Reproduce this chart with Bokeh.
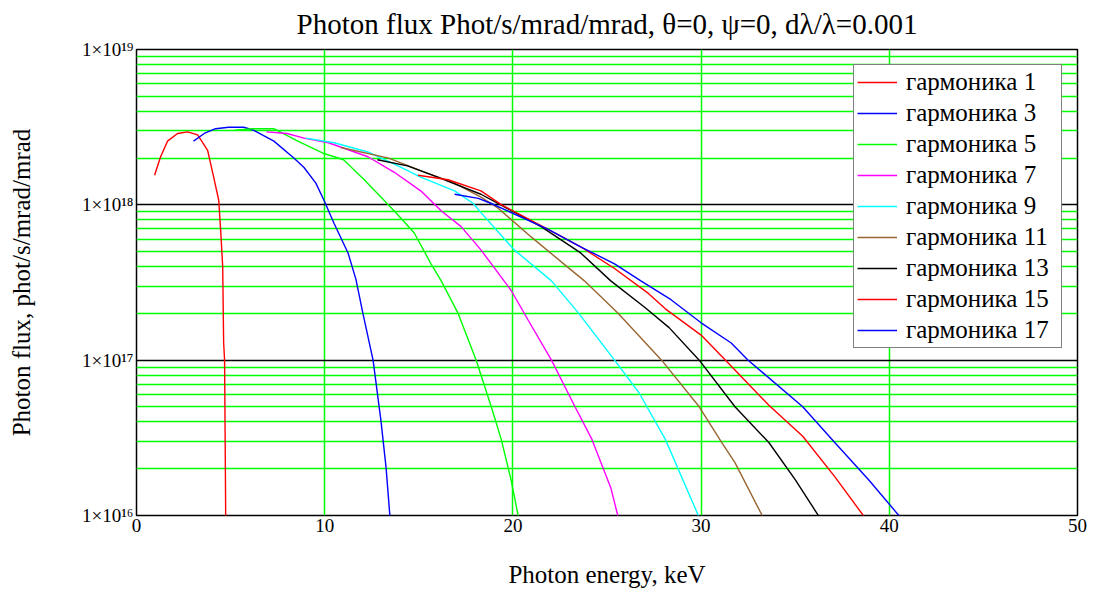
from bokeh.plotting import figure
from bokeh.models import Range1d, FixedTicker, CustomJSTickFormatter
from bokeh.embed import file_html
from bokeh.resources import INLINE

# ---- data ----
title_text = "Photon flux Phot/s/mrad/mrad, θ=0, ψ=0, dλ/λ=0.001"
labels = ["гармоника 1", "гармоника 3", "гармоника 5", "гармоника 7", "гармоника 9",
          "гармоника 11", "гармоника 13", "гармоника 15", "гармоника 17"]
colors = ["#ff0000", "#0000ff", "#00ff00", "#ff00ff", "#00ffff",
          "#996633", "#000000", "#ff0000", "#0000ff"]

e1 = [0.96, 1.28, 1.65, 2.18, 2.72, 3.25, 3.78, 4.10, 4.37, 4.47, 4.58, 4.63, 4.68, 4.71, 4.74]
f1 = [1.55e18, 2.04e18, 2.57e18, 2.88e18, 2.95e18, 2.82e18, 2.24e18, 1.51e18, 1.07e18, 6.9e17,
      4.0e17, 1.3e17, 1.0e17, 3.2e16, 0.95e16]

e3 = [3.03, 3.6, 4.2, 4.9, 5.7, 6.23, 7.3, 8.36, 8.9, 9.53, 9.96, 10.5, 11.24, 11.66, 12.03,
      12.57, 12.99, 13.26, 13.47]
f3 = [2.57e18, 2.88e18, 3.09e18, 3.16e18, 3.16e18, 3.02e18, 2.57e18, 2.0e18, 1.74e18, 1.38e18,
      1.07e18, 7.59e17, 4.9e17, 3.31e17, 2.0e17, 1.0e17, 4.07e16, 2.04e16, 0.97e16]

e5 = [5.2, 6.2, 7.3, 8.57, 9.96, 11.0, 12.1, 13.7, 14.75, 15.65, 16.19, 17.09, 18.05, 18.85,
      19.38, 19.9, 20.3]
f5 = [3.02e18, 3.09e18, 3.09e18, 2.57e18, 2.14e18, 1.95e18, 1.45e18, 9.12e17, 6.61e17, 4.17e17,
      3.24e17, 2.0e17, 1.0e17, 5.01e16, 3.09e16, 1.7e16, 0.97e16]

e7 = [6.9, 8.0, 8.9, 10.2, 12.3, 13.7, 15.1, 16.2, 17.25, 18.3, 19.9, 20.8, 22.05, 23.3, 24.2,
      25.2, 25.6]
f7 = [2.95e18, 2.88e18, 2.69e18, 2.51e18, 2.04e18, 1.62e18, 1.23e18, 9.12e17, 7.24e17, 5.13e17,
      2.82e17, 1.82e17, 1.0e17, 5.01e16, 3.09e16, 1.51e16, 0.97e16]

e9 = [9.0, 10.5, 12.3, 14.06, 15.1, 16.9, 17.9, 18.3, 20.07, 22.05, 23.5, 25.4, 26.7, 28.1, 29.9]
f9 = [2.69e18, 2.51e18, 2.19e18, 1.74e18, 1.51e18, 1.23e18, 1.02e18, 8.91e17, 5.13e17, 3.24e17,
      2.0e17, 1.0e17, 6.17e16, 3.09e16, 0.97e16]

e11 = [10.86, 13.4, 15.1, 16.9, 18.3, 19.2, 21.0, 22.7, 23.8, 25.6, 27.9, 29.9, 31.1, 31.8, 33.3]
f11 = [2.34e18, 2.0e18, 1.66e18, 1.38e18, 1.12e18, 9.55e17, 6.17e17, 4.17e17, 3.24e17, 2.0e17,
       1.0e17, 5.01e16, 2.95e16, 2.19e16, 0.97e16]

e13 = [12.8, 14.4, 16.0, 18.3, 21.5, 23.6, 25.2, 27.0, 28.3, 29.9, 31.8, 33.6, 35.0, 36.3]
f13 = [1.95e18, 1.78e18, 1.51e18, 1.17e18, 7.24e17, 4.9e17, 3.24e17, 2.19e17, 1.62e17, 1.0e17,
       5.01e16, 2.95e16, 1.7e16, 0.97e16]

e15 = [14.96, 16.56, 18.3, 19.4, 21.9, 23.6, 25.4, 27.2, 28.1, 30.0, 31.3, 33.6, 35.4, 37.1, 38.7]
f15 = [1.55e18, 1.45e18, 1.23e18, 1.0e18, 6.92e17, 5.37e17, 3.89e17, 2.69e17, 2.14e17, 1.45e17,
       1.0e17, 5.13e16, 3.24e16, 1.78e16, 0.97e16]

e17 = [16.9, 18.16, 18.85, 21.9, 23.6, 25.4, 26.8, 28.4, 30.0, 31.6, 32.5, 35.4, 37.1, 38.9, 40.6]
f17 = [1.17e18, 1.10e18, 1.02e18, 6.92e17, 5.37e17, 4.17e17, 3.24e17, 2.45e17, 1.74e17, 1.29e17,
       1.0e17, 5.01e16, 2.95e16, 1.7e16, 0.97e16]

energies = [e1, e3, e5, e7, e9, e11, e13, e15, e17]
fluxes = [f1, f3, f5, f7, f9, f11, f13, f15, f17]

x_ticks = [0, 10, 20, 30, 40, 50]
y_ticks = [1e16, 1e17, 1e18, 1e19]
y_minor = [k * 10.0 ** d for d in (16, 17, 18) for k in range(2, 10)]

FONT = "Liberation Serif"

p = figure(width=1097, height=594, y_axis_type="log",
           x_range=Range1d(0, 50), y_range=Range1d(1e16, 1e19),
           output_backend="svg", toolbar_location=None, title=title_text,
           min_border_left=136, min_border_right=20, min_border_top=49, min_border_bottom=79)

p.title.align = "center"
p.title.vertical_align = "top"
p.title.text_font = FONT
p.title.text_font_size = "29px"
p.title.text_font_style = "normal"
p.title.text_color = "#000000"
p.title.standoff = 15

p.outline_line_color = "#000000"
p.outline_line_width = 1.5
p.background_fill_color = "white"
p.border_fill_color = "white"

for e, f, c, lab in zip(energies, fluxes, colors, labels):
    p.line(e, f, line_color=c, line_width=1.4, legend_label=lab)

# axes
p.xaxis.ticker = FixedTicker(ticks=x_ticks)
p.yaxis.ticker = FixedTicker(ticks=y_ticks, minor_ticks=y_minor)
p.yaxis.formatter = CustomJSTickFormatter(code="""
const sup = {"0":"\u2070","1":"\u00b9","2":"\u00b2","3":"\u00b3","4":"\u2074","5":"\u2075","6":"\u2076","7":"\u2077","8":"\u2078","9":"\u2079"};
const e = Math.round(Math.log10(tick));
return "1\u00d710" + String(e).split("").map(c => sup[c]).join("");
""")
for ax in (p.xaxis[0], p.yaxis[0]):
    ax.axis_line_color = None
    ax.major_tick_line_color = None
    ax.minor_tick_line_color = None
    ax.major_tick_out = 0
    ax.major_tick_in = 0
    ax.minor_tick_out = 0
    ax.major_label_text_font = FONT
    ax.major_label_text_font_size = "19px"
    ax.major_label_text_color = "#000000"
    ax.axis_label_text_font = FONT
    ax.axis_label_text_font_size = "25px"
    ax.axis_label_text_font_style = "normal"
    ax.axis_label_text_color = "#000000"

p.xaxis.axis_label = "Photon energy, keV"
p.yaxis.axis_label = "Photon flux, phot/s/mrad/mrad"
p.xaxis.major_label_standoff = 3
p.xaxis.axis_label_standoff = 26
p.yaxis.major_label_standoff = 3
p.yaxis.axis_label_standoff = 44

# grids
p.xgrid.grid_line_color = "#00ff00"
p.xgrid.grid_line_width = 1.5
p.ygrid.grid_line_color = "#000000"
p.ygrid.grid_line_width = 1.5
p.ygrid.minor_grid_line_color = "#00ff00"
p.ygrid.minor_grid_line_width = 1.5

# legend
lg = p.legend[0]
lg.location = "top_right"
lg.margin = 15
lg.padding = 3
lg.spacing = 3
lg.glyph_width = 40
lg.glyph_height = 24
lg.label_height = 24
lg.label_width = 152
lg.label_standoff = 9
lg.label_text_font = FONT
lg.label_text_font_size = "25px"
lg.label_text_color = "#000000"
lg.border_line_color = "#000000"
lg.border_line_width = 1.5
lg.background_fill_color = "white"
lg.background_fill_alpha = 1.0

open("out.html", "w").write(file_html(p, INLINE))
